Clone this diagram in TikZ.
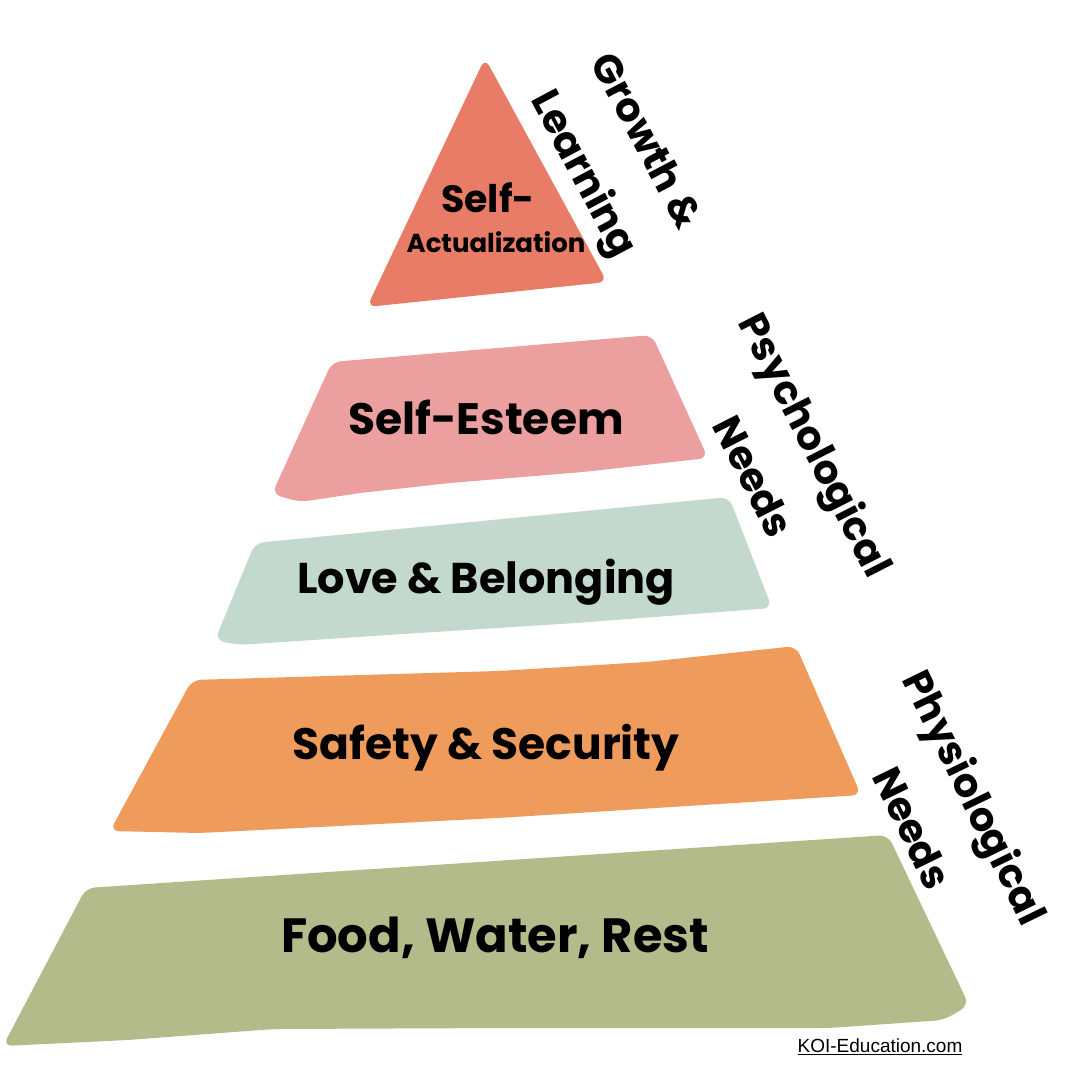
\documentclass[tikz,border=0pt]{standalone}
\usepackage{fontspec}
\setmainfont{Poppins}
\newfontfamily\sitefont{Liberation Sans}
\usepackage{tikz}
\usetikzlibrary{positioning}
\definecolor{tiptone}{RGB}{233,124,103}
\definecolor{esteemtone}{RGB}{235,160,159}
\definecolor{belongtone}{RGB}{195,217,205}
\definecolor{safetytone}{RGB}{239,155,92}
\definecolor{basictone}{RGB}{179,187,138}

\begin{document}
\begin{tikzpicture}[x=1pt,y=-1pt, every node/.style={inner sep=0pt},
  tier/.style={rounded corners=9pt},
  level/.style={font=\bfseries\fontsize{#1}{50}\selectfont},
  side/.style={font=\bfseries\fontsize{40}{70}\selectfont, align=center}]
 \useasboundingbox (0,0) rectangle (1080,1080);
 % pyramid layers
 \fill[tier,tiptone] (485,58) -- (607,282) -- (367,307) -- cycle;
 \fill[tier,esteemtone] (332,362) -- (652,335) -- (708,458) -- (583,472) -- (450,483)
   -- (360,493) -- (300,502) -- (272,494) -- cycle;
 \fill[tier,belongtone] (255,543) -- (729,497) -- (772,608) -- (576,623) -- (388,635)
   -- (238,645) -- (215,640) -- cycle;
 \fill[tier,safetytone] (192,680) -- (498,671) -- (647,662) -- (796,646) -- (861,795)
   -- (498,818) -- (200,833) -- (110,831) -- cycle;
 \fill[tier,basictone] (86,888) -- (888,835) -- (969,1005) -- (944,1020) -- (829,1028)
   -- (510,1028) -- (274,1029) -- (128,1040) -- (3,1046) -- cycle;
 % labels inside
 \node[level=38] (self) at (488,198) {Self-};
 \node[level=26] (actual) at (496,242) {Actualization};
 \node[level=44] (esteem) at (486,417) {Self-Esteem};
 \node[level=43] (belong) at (486,582) {Love \& Belonging};
 \node[level=44] (safety) at (486,748) {Safety \& Security};
 \node[level=48] (basic) at (495,938) {Food, Water, Rest};
 % labels beside
 \node[side, rotate=-62] (growth) at (612,159) {Growth \&\\Learning};
 \node[side, rotate=-63] (psych) at (786,460) {Psychological\\Needs};
 \node[side, rotate=-64] (physio) at (945,812) {Physiological\\Needs};
 \node[font=\sitefont\fontsize{19}{22}\selectfont] (site) at (880,1047) {\underline{KOI-Education.com}};
\end{tikzpicture}
\end{document}
